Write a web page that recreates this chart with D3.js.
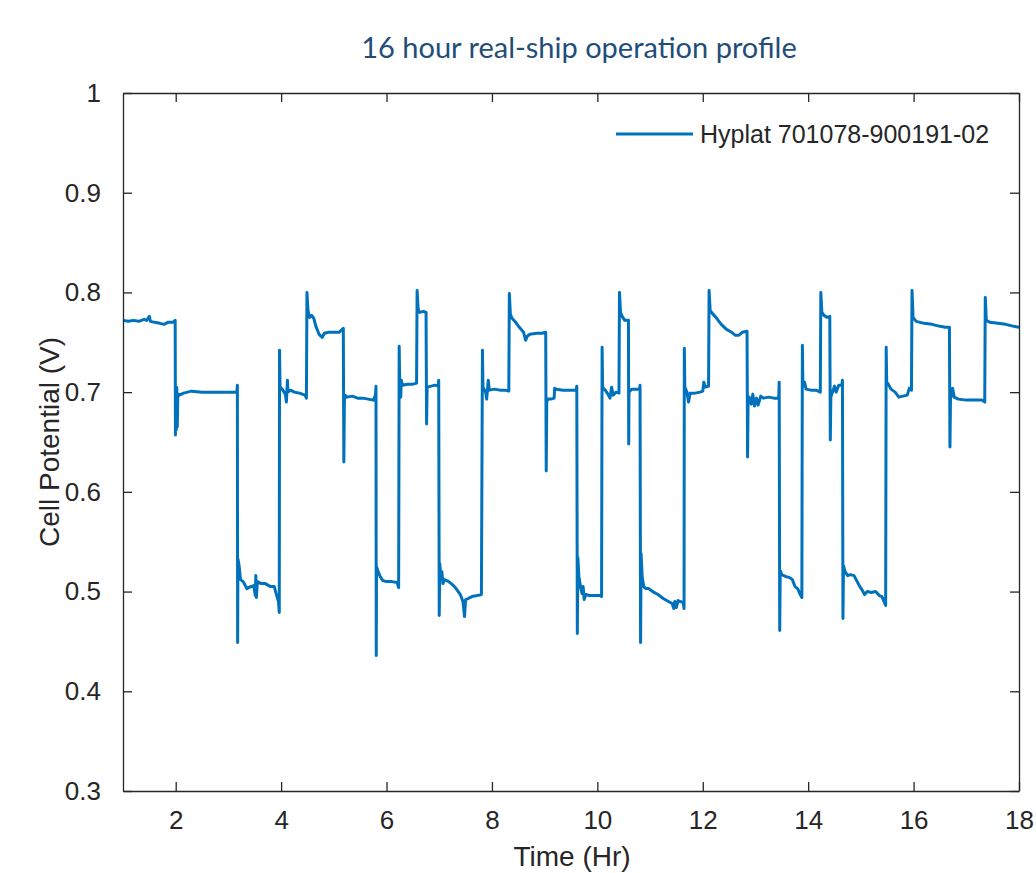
<!DOCTYPE html>
<html>
<head>
<meta charset="utf-8">
<script src="https://cdn.jsdelivr.net/npm/d3@7"></script>
<style>
  body { margin: 0; background: #fff; }
  svg text { font-family: "Liberation Sans", Arial, sans-serif; fill: #262626; }
  .title { font-family: Lato, "Open Sans", sans-serif; fill: #1f4e79; }
</style>
</head>
<body>
<svg id="chart" width="1036" height="873"></svg>
<script>
// ===== Data =====
const chartTitle = "16 hour real-ship operation profile";
const seriesName = "Hyplat 701078-900191-02";
const xTicks = [2, 4, 6, 8, 10, 12, 14, 16, 18];
const yTicks = [0.3, 0.4, 0.5, 0.6, 0.7, 0.8, 0.9, 1];

// [time (hr), cell potential (V)]
const trace = [
  [1.00,0.772],[1.10,0.771],[1.20,0.772],[1.30,0.771],[1.40,0.773],[1.45,0.772],[1.50,0.776],[1.52,0.771],
  [1.60,0.770],[1.70,0.769],[1.78,0.768],[1.85,0.770],[1.95,0.770],[1.99,0.772],
  [1.995,0.657],[2.00,0.700],[2.01,0.662],[2.02,0.705],[2.03,0.665],[2.04,0.698],[2.07,0.697],[2.15,0.699],
  [2.30,0.701],[2.50,0.700],[2.70,0.700],[3.00,0.700],[3.16,0.700],[3.17,0.707],
  [3.175,0.449],[3.18,0.533],[3.20,0.527],[3.23,0.512],[3.28,0.510],[3.35,0.503],[3.42,0.505],[3.48,0.506],
  [3.51,0.496],[3.52,0.516],[3.53,0.494],[3.55,0.510],[3.62,0.508],[3.70,0.508],[3.80,0.505],[3.87,0.505],
  [3.91,0.497],[3.95,0.490],[3.965,0.479],
  [3.97,0.742],[3.98,0.705],[4.02,0.703],[4.08,0.698],[4.10,0.690],[4.12,0.712],[4.13,0.700],[4.18,0.702],
  [4.25,0.700],[4.35,0.699],[4.45,0.697],[4.48,0.694],
  [4.49,0.800],[4.51,0.782],[4.54,0.775],[4.58,0.777],[4.62,0.774],[4.66,0.766],[4.72,0.758],[4.78,0.755],
  [4.82,0.759],[4.90,0.760],[5.00,0.760],[5.10,0.760],[5.18,0.764],
  [5.19,0.630],[5.20,0.690],[5.21,0.697],[5.25,0.695],[5.35,0.696],[5.45,0.694],[5.55,0.694],[5.65,0.693],
  [5.75,0.692],[5.79,0.697],[5.80,0.706],
  [5.805,0.436],[5.81,0.525],[5.84,0.520],[5.88,0.515],[5.93,0.511],[6.00,0.510],[6.10,0.510],[6.20,0.509],
  [6.23,0.504],
  [6.24,0.746],[6.25,0.708],[6.27,0.695],[6.28,0.712],[6.30,0.707],[6.40,0.708],[6.50,0.708],[6.57,0.709],
  [6.58,0.802],[6.60,0.783],[6.63,0.780],[6.70,0.781],[6.75,0.780],
  [6.76,0.668],[6.77,0.705],[6.85,0.706],[6.92,0.707],[6.98,0.706],[6.99,0.712],
  [7.00,0.476],[7.01,0.528],[7.03,0.515],[7.05,0.520],[7.07,0.508],[7.10,0.512],[7.18,0.510],[7.25,0.507],
  [7.32,0.503],[7.40,0.497],[7.45,0.490],[7.48,0.475],[7.50,0.492],[7.55,0.493],[7.62,0.495],[7.72,0.496],
  [7.80,0.497],
  [7.82,0.742],[7.83,0.705],[7.88,0.700],[7.90,0.693],[7.93,0.712],[7.95,0.702],[8.05,0.703],[8.15,0.702],
  [8.25,0.702],[8.32,0.701],
  [8.33,0.799],[8.35,0.778],[8.38,0.774],[8.45,0.770],[8.52,0.765],[8.60,0.760],[8.64,0.752],[8.67,0.756],
  [8.72,0.758],[8.85,0.759],[8.95,0.759],[9.02,0.760],
  [9.03,0.621],[9.04,0.690],[9.06,0.693],[9.12,0.693],[9.18,0.694],[9.19,0.704],[9.22,0.703],[9.35,0.702],
  [9.50,0.702],[9.60,0.702],[9.61,0.706],
  [9.62,0.458],[9.63,0.534],[9.65,0.515],[9.68,0.505],[9.71,0.498],[9.73,0.505],[9.75,0.492],[9.78,0.497],
  [9.85,0.496],[9.95,0.496],[10.05,0.496],[10.08,0.495],
  [10.09,0.745],[10.10,0.705],[10.15,0.702],[10.20,0.698],[10.24,0.694],[10.27,0.705],[10.30,0.697],
  [10.35,0.700],[10.41,0.699],
  [10.42,0.800],[10.44,0.780],[10.47,0.776],[10.52,0.772],[10.59,0.772],
  [10.595,0.648],[10.60,0.700],[10.65,0.703],[10.72,0.703],[10.80,0.703],[10.81,0.707],
  [10.82,0.449],[10.83,0.538],[10.85,0.515],[10.88,0.505],[10.92,0.503],[10.97,0.503],[11.05,0.500],
  [11.15,0.497],[11.25,0.493],[11.35,0.490],[11.42,0.488],[11.45,0.483],[11.47,0.490],[11.50,0.484],
  [11.53,0.491],[11.58,0.490],[11.63,0.489],[11.645,0.483],
  [11.65,0.744],[11.66,0.705],[11.70,0.700],[11.73,0.690],[11.76,0.699],[11.85,0.699],[11.95,0.700],
  [12.00,0.701],[12.02,0.710],[12.05,0.705],[12.11,0.706],
  [12.12,0.802],[12.14,0.782],[12.18,0.779],[12.25,0.775],[12.35,0.768],[12.45,0.763],[12.55,0.760],
  [12.62,0.757],[12.68,0.757],[12.75,0.760],[12.84,0.761],
  [12.85,0.635],[12.86,0.690],[12.88,0.695],[12.92,0.688],[12.95,0.698],[12.98,0.686],[13.02,0.694],
  [13.05,0.687],[13.10,0.696],[13.15,0.694],[13.25,0.695],[13.35,0.694],[13.44,0.694],[13.45,0.710],
  [13.46,0.461],[13.47,0.521],[13.50,0.517],[13.58,0.515],[13.65,0.514],[13.70,0.512],[13.75,0.505],
  [13.80,0.503],[13.85,0.497],[13.88,0.494],
  [13.89,0.747],[13.90,0.706],[13.93,0.710],[13.96,0.703],[14.05,0.702],[14.15,0.702],[14.23,0.700],
  [14.24,0.800],[14.26,0.780],[14.30,0.777],[14.36,0.775],[14.41,0.776],
  [14.42,0.652],[14.43,0.695],[14.46,0.700],[14.50,0.706],[14.53,0.700],[14.58,0.707],[14.64,0.707],
  [14.65,0.712],
  [14.66,0.473],[14.67,0.526],[14.70,0.520],[14.75,0.516],[14.80,0.517],[14.87,0.516],[14.93,0.510],
  [14.98,0.505],[15.02,0.502],[15.07,0.497],[15.12,0.500],[15.20,0.499],[15.28,0.500],[15.35,0.496],
  [15.40,0.495],[15.47,0.486],
  [15.48,0.745],[15.49,0.710],[15.52,0.708],[15.57,0.703],[15.65,0.700],[15.72,0.695],[15.80,0.696],
  [15.88,0.697],[15.92,0.704],[15.96,0.702],
  [15.97,0.802],[15.99,0.775],[16.05,0.771],[16.20,0.769],[16.35,0.768],[16.50,0.766],[16.60,0.765],
  [16.68,0.765],
  [16.69,0.645],[16.70,0.693],[16.72,0.698],[16.74,0.704],[16.77,0.695],[16.85,0.693],[17.00,0.692],
  [17.15,0.692],[17.30,0.692],[17.35,0.690],
  [17.36,0.795],[17.38,0.772],[17.45,0.770],[17.60,0.769],[17.75,0.768],[17.90,0.766],[18.00,0.765]
];

// ===== Layout =====
const svg = d3.select("#chart");
const plot = { left: 123, right: 1019, top: 93, bottom: 791 };
const lineColor = "#0072bd";
const axisColor = "#262626";

const x = d3.scaleLinear().domain([1, 18]).range([plot.left, plot.right]);
const y = d3.scaleLinear().domain([0.3, 1]).range([plot.bottom, plot.top]);

// title
svg.append("text")
  .attr("class", "title")
  .attr("x", 579)
  .attr("y", 58)
  .attr("text-anchor", "middle")
  .style("font-size", "29px")
  .text(chartTitle);

// ===== Series =====
const line = d3.line()
  .x(d => x(d[0]))
  .y(d => y(d[1]));

svg.append("path")
  .datum(trace)
  .attr("fill", "none")
  .attr("stroke", lineColor)
  .attr("stroke-width", 3)
  .attr("stroke-linejoin", "round")
  .attr("d", line);

// ===== Axes (matlab style box, inward ticks) =====
const tickLen = 9;
const fmtY = d => d === 1 ? "1" : d3.format(".1f")(d);

const bottomAxis = svg.append("g")
  .attr("transform", `translate(0,${plot.bottom})`)
  .call(d3.axisBottom(x).tickValues(xTicks).tickSizeInner(-tickLen).tickSizeOuter(0).tickPadding(20));
const topAxis = svg.append("g")
  .attr("transform", `translate(0,${plot.top})`)
  .call(d3.axisTop(x).tickValues(xTicks).tickSizeInner(-tickLen).tickSizeOuter(0).tickFormat(""));
const leftAxis = svg.append("g")
  .attr("transform", `translate(${plot.left},0)`)
  .call(d3.axisLeft(y).tickValues(yTicks).tickSizeInner(-tickLen).tickSizeOuter(0).tickPadding(22).tickFormat(fmtY));
const rightAxis = svg.append("g")
  .attr("transform", `translate(${plot.right},0)`)
  .call(d3.axisRight(y).tickValues(yTicks).tickSizeInner(-tickLen).tickSizeOuter(0).tickFormat(""));

[bottomAxis, topAxis, leftAxis, rightAxis].forEach(a => {
  a.select(".domain").attr("stroke", axisColor).attr("stroke-width", 1.3);
  a.selectAll(".tick line").attr("stroke", axisColor).attr("stroke-width", 1.3);
  a.selectAll(".tick text")
    .attr("fill", axisColor)
    .style("font-family", '"Liberation Sans", Arial, sans-serif')
    .style("font-size", "26px");
});

// axis labels
svg.append("text")
  .attr("x", 572)
  .attr("y", 866)
  .attr("text-anchor", "middle")
  .style("font-size", "28px")
  .text("Time (Hr)");

svg.append("text")
  .attr("transform", "rotate(-90)")
  .attr("x", -442)
  .attr("y", 59)
  .attr("text-anchor", "middle")
  .style("font-size", "28px")
  .text("Cell Potential (V)");

// ===== Legend =====
const legend = svg.append("g").attr("transform", "translate(616,134)");
legend.append("line")
  .attr("x1", 0).attr("x2", 77)
  .attr("y1", 0).attr("y2", 0)
  .attr("stroke", lineColor)
  .attr("stroke-width", 3);
legend.append("text")
  .attr("x", 84)
  .attr("y", 9)
  .style("font-size", "25px")
  .text(seriesName);
</script>
</body>
</html>
